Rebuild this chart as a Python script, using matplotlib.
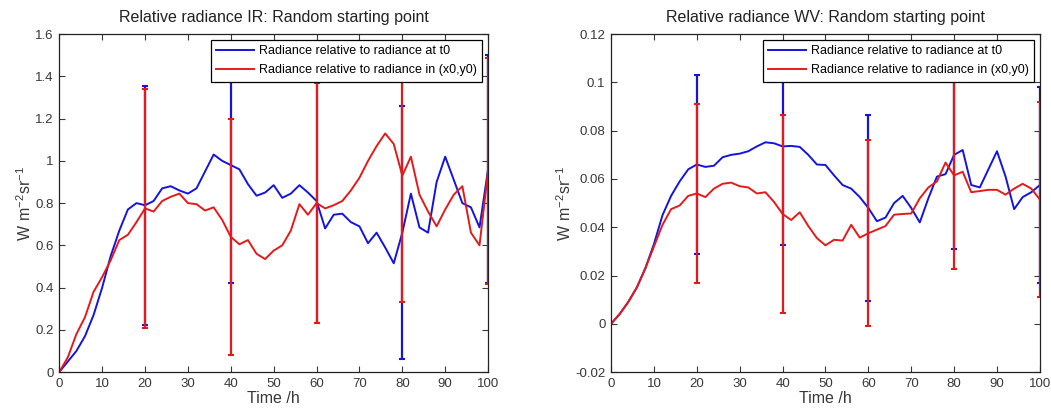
import numpy as np
import matplotlib.pyplot as plt

plt.rcParams['font.family'] = ['Liberation Sans', 'DejaVu Sans']

# time axis, one sample every 2 h
t = np.arange(0, 101, 2)

ir_t0 = [0, 0.05, 0.10, 0.17, 0.27, 0.40, 0.55, 0.67, 0.77, 0.80,
         0.79, 0.81, 0.87, 0.88, 0.86, 0.845, 0.87, 0.95, 1.03, 1.00,
         0.98, 0.96, 0.89, 0.835, 0.85, 0.885, 0.825, 0.845, 0.885, 0.85,
         0.81, 0.68, 0.745, 0.75, 0.71, 0.69, 0.61, 0.66, 0.59, 0.515,
         0.66, 0.845, 0.685, 0.66, 0.90, 1.02, 0.91, 0.80, 0.78, 0.685,
         0.96]
ir_xy = [0, 0.07, 0.18, 0.26, 0.38, 0.45, 0.53, 0.625, 0.65, 0.71,
         0.775, 0.76, 0.81, 0.83, 0.845, 0.80, 0.795, 0.765, 0.78, 0.72,
         0.64, 0.605, 0.625, 0.56, 0.535, 0.575, 0.60, 0.67, 0.795, 0.745,
         0.80, 0.775, 0.79, 0.81, 0.86, 0.92, 1.00, 1.07, 1.13, 1.08,
         0.93, 1.02, 0.84, 0.76, 0.69, 0.77, 0.84, 0.88, 0.66, 0.60,
         0.95]

wv_t0 = [0, 0.004, 0.009, 0.015, 0.023, 0.033, 0.045, 0.053, 0.059, 0.064,
         0.066, 0.065, 0.0655, 0.069, 0.070, 0.0705, 0.0715, 0.0735, 0.0752, 0.0748,
         0.0735, 0.0737, 0.0733, 0.070, 0.066, 0.0658, 0.0615, 0.0575, 0.056, 0.0525,
         0.048, 0.0425, 0.044, 0.050, 0.053, 0.048, 0.042, 0.052, 0.061, 0.062,
         0.070, 0.072, 0.0575, 0.0565, 0.064, 0.0715, 0.061, 0.0475, 0.0525, 0.0545,
         0.0575]
wv_xy = [0, 0.004, 0.009, 0.015, 0.023, 0.032, 0.041, 0.0475, 0.049, 0.053,
         0.054, 0.0525, 0.056, 0.058, 0.0585, 0.057, 0.0565, 0.054, 0.0545, 0.0505,
         0.0455, 0.043, 0.0462, 0.0405, 0.0355, 0.0325, 0.0348, 0.0345, 0.041, 0.0357,
         0.0375, 0.039, 0.0405, 0.0452, 0.0455, 0.0457, 0.052, 0.0565, 0.059, 0.0668,
         0.0615, 0.063, 0.0545, 0.055, 0.0555, 0.0555, 0.0535, 0.056, 0.058, 0.056,
         0.0515]

# error bars every 20 h
t_err = [20, 40, 60, 80, 100]
ir_t0_err = [0.565, 0.56, 0.58, 0.60, 0.54]
ir_xy_err = [0.565, 0.56, 0.57, 0.60, 0.535]
wv_t0_err = [0.037, 0.041, 0.0385, 0.039, 0.0405]
wv_xy_err = [0.037, 0.041, 0.0385, 0.0387, 0.0405]

lab_t0 = 'Radiance relative to radiance at t0'
lab_xy = 'Radiance relative to radiance in (x0,y0)'

blue = '#1414dc'
red = '#e41a1a'
dark = '#383838'


def draw(ax, y_t0, y_xy, e_t0, e_xy, title, ylim, yticks, yticklabels):
    idx = [list(t).index(v) for v in t_err]
    ax.plot(t, y_t0, color=blue, lw=1.4, label=lab_t0)
    ax.errorbar(t_err, [y_t0[i] for i in idx], yerr=e_t0, fmt='none',
                ecolor=blue, elinewidth=1.6, capsize=2.5, capthick=1.5)
    ax.plot(t, y_xy, color=red, lw=1.4, label=lab_xy)
    ax.errorbar(t_err, [y_xy[i] for i in idx], yerr=e_xy, fmt='none',
                ecolor=red, elinewidth=1.6, capsize=2.5, capthick=1.5)
    ax.set_xlim(0, 100)
    ax.set_ylim(*ylim)
    ax.set_xticks(range(0, 101, 10))
    ax.set_yticks(yticks)
    ax.set_yticklabels(yticklabels)
    ax.tick_params(direction='in', top=True, right=True, length=4,
                   width=0.8, labelsize=9.5, colors=dark, pad=4)
    for s in ax.spines.values():
        s.set_color('#222222')
        s.set_linewidth(0.9)
    ax.set_title(title, fontsize=11.5, color='#222222', pad=9)
    ax.set_xlabel('Time /h', fontsize=11.5, color=dark, labelpad=1)
    ax.set_ylabel(r'$\mathregular{W\ m^{-2}sr^{-1}}$', fontsize=11.5,
                  color=dark, labelpad=1)
    leg = ax.legend(loc='upper right', fontsize=9, fancybox=False,
                    framealpha=1, edgecolor='black', handlelength=3,
                    borderaxespad=0.45, labelspacing=0.55,
                    handletextpad=0.4, borderpad=0.45)
    leg.get_frame().set_linewidth(0.9)


fig = plt.figure(figsize=(10.51, 4.12), dpi=100)
ax1 = fig.add_axes([0.0564, 0.097, 0.408, 0.82])
ax2 = fig.add_axes([0.5814, 0.097, 0.408, 0.82])

draw(ax1, ir_t0, ir_xy, ir_t0_err, ir_xy_err,
     'Relative radiance IR: Random starting point', (0, 1.6),
     np.arange(0, 1.61, 0.2),
     ['0', '0.2', '0.4', '0.6', '0.8', '1', '1.2', '1.4', '1.6'])
draw(ax2, wv_t0, wv_xy, wv_t0_err, wv_xy_err,
     'Relative radiance WV: Random starting point', (-0.02, 0.12),
     np.arange(-0.02, 0.121, 0.02),
     ['-0.02', '0', '0.02', '0.04', '0.06', '0.08', '0.1', '0.12'])

fig.savefig('out.png', dpi=100)
